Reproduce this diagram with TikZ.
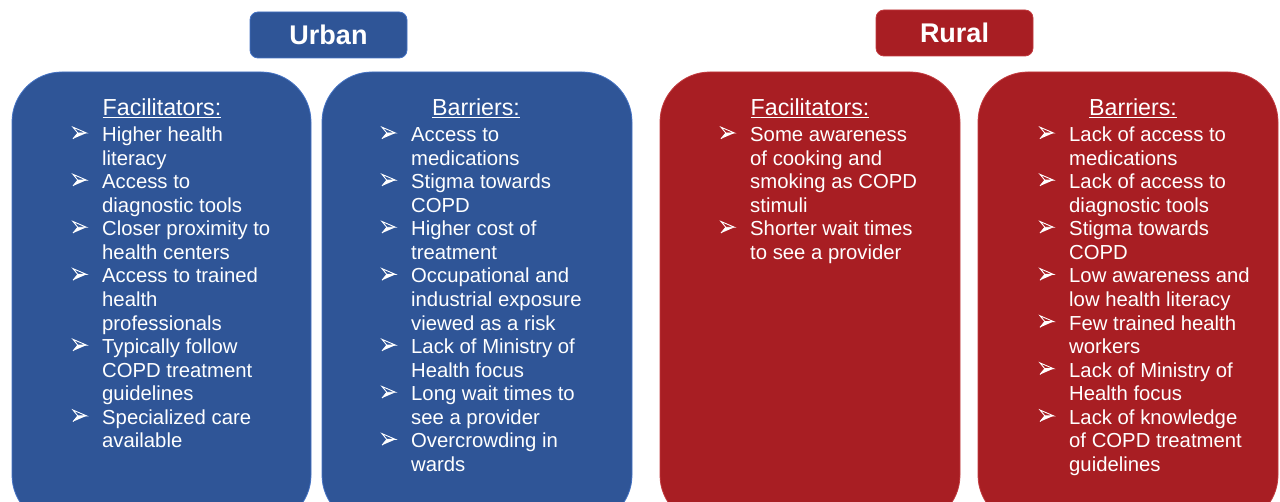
\documentclass[tikz,border=0pt]{standalone}
\usepackage{fontspec}
\setmainfont{Liberation Sans}
\definecolor{ublue}{HTML}{2F5597}
\definecolor{uline}{HTML}{4472C4}
\definecolor{rred}{HTML}{A81E23}
\definecolor{rline}{HTML}{C23A3E}
\def\bb{b}
\begin{document}
\begin{tikzpicture}[x=1pt,y=-1pt,
  panel/.style={draw=#1, line width=0.8pt, rounded corners=50pt, inner sep=0pt, outer sep=0pt, anchor=north west, minimum height=453pt},
  header/.style={draw=#1, line width=0.8pt, rounded corners=8pt, inner sep=0pt, minimum width=157pt, minimum height=46pt, text=white, font=\fontsize{27}{30}\selectfont\bfseries},
  itemtext/.style={anchor=base west, inner sep=0pt, text=white, font=\fontsize{20.3}{24}\selectfont},
  headtext/.style={anchor=base, inner sep=0pt, text=white, font=\fontsize{23.2}{26}\selectfont},
  dart/.pic={
    \draw[white, line width=0.9pt, line join=miter] (0,-5.8) -- (13.5,0) -- (4.8,0) -- cycle;
    \fill[white] (4.8,0) -- (13.5,0) -- (0,5.8) -- cycle;
    \draw[white, line width=0.9pt, line join=miter] (0,5.8) -- (4.8,0);
  }
]
\useasboundingbox (0,0) rectangle (1280,502);
\clip (0,0) rectangle (1280,502);

% headers
\node[header=uline, fill=ublue] (urban) at (328.5,35) {Urban};
\node[header=rline, fill=rred] (rural) at (954.5,33) {Rural};

% panels
\node[panel=uline, fill=ublue, minimum width=299pt] (uf) at (12,72) {};
\node[panel=uline, fill=ublue, minimum width=310pt] (ub) at (322,72) {};
\node[panel=rline, fill=rred, minimum width=300pt] (rf) at (660,72) {};
\node[panel=rline, fill=rred, minimum width=300pt] (rb) at (978,72) {};

% headings
\node[headtext] (uf-h) at (162,116) {\underline{Facilitators:}};
\node[headtext] (ub-h) at (476,116) {\underline{Barriers:}};
\node[headtext] (rf-h) at (810,116) {\underline{Facilitators:}};
\node[headtext] (rb-h) at (1133,116) {\underline{Barriers:}};

% Urban facilitators
\foreach \k/\t [count=\i from 0] in {b/Higher health, n/literacy, b/Access to, n/diagnostic tools, b/Closer proximity to, n/health centers, b/Access to trained, n/health, n/professionals, b/Typically follow, n/COPD treatment, n/guidelines, b/Specialized care, n/available}{
  \node[itemtext] (uf-\i) at (102,141.5+23.57*\i) {\t};
  \edef\cur{\k}\ifx\cur\bb \pic at (73,133+23.57*\i) {dart};\fi
}
% Urban barriers
\foreach \k/\t [count=\i from 0] in {b/Access to, n/medications, b/Stigma towards, n/COPD, b/Higher cost of, n/treatment, b/Occupational and, n/industrial exposure, n/viewed as a risk, b/Lack of Ministry of, n/Health focus, b/Long wait times to, n/see a provider, b/Overcrowding in, n/wards}{
  \node[itemtext] (ub-\i) at (411,141.5+23.57*\i) {\t};
  \edef\cur{\k}\ifx\cur\bb \pic at (382,133+23.57*\i) {dart};\fi
}
% Rural facilitators
\foreach \k/\t [count=\i from 0] in {b/Some awareness, n/of cooking and, n/smoking as COPD, n/stimuli, b/Shorter wait times, n/to see a provider}{
  \node[itemtext] (rf-\i) at (750,141.5+23.57*\i) {\t};
  \edef\cur{\k}\ifx\cur\bb \pic at (721,133+23.57*\i) {dart};\fi
}
% Rural barriers
\foreach \k/\t [count=\i from 0] in {b/Lack of access to, n/medications, b/Lack of access to, n/diagnostic tools, b/Stigma towards, n/COPD, b/Low awareness and, n/low health literacy, b/Few trained health, n/workers, b/Lack of Ministry of, n/Health focus, b/Lack of knowledge, n/of COPD treatment, n/guidelines}{
  \node[itemtext] (rb-\i) at (1069,141.5+23.57*\i) {\t};
  \edef\cur{\k}\ifx\cur\bb \pic at (1040,133+23.57*\i) {dart};\fi
}
\end{tikzpicture}
\end{document}
